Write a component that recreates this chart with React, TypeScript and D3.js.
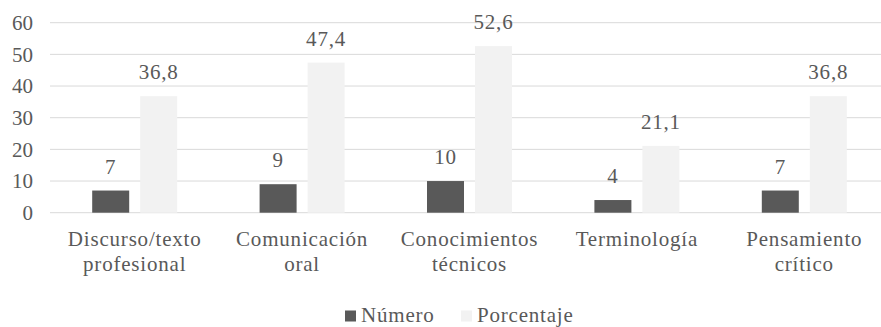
import React from "react";
import * as d3 from "d3";

const categories: string[][] = [
  ["Discurso/texto", "profesional"],
  ["Comunicación", "oral"],
  ["Conocimientos", "técnicos"],
  ["Terminología"],
  ["Pensamiento", "crítico"],
];
const numero: number[] = [7, 9, 10, 4, 7];
const porcentaje: number[] = [36.8, 47.4, 52.6, 21.1, 36.8];
const yTicks: number[] = [0, 10, 20, 30, 40, 50, 60];
const seriesNames: string[] = ["Número", "Porcentaje"];

const W = 881;
const H = 327;
const FONT =
  "'Liberation Serif', Tinos, 'Noto Serif', FreeSerif, 'Nimbus Roman', 'Nimbus Roman No9 L', Times, 'DejaVu Serif', serif";
const TEXT = "#595959";
const GRID = "#d9d9d9";
const COLORS = ["#595959", "#f2f2f2"];

const fmt = (v: number) => (Number.isInteger(v) ? String(v) : v.toFixed(1).replace(".", ","));

const textStyle: React.CSSProperties = { fontFamily: FONT, fontSize: 21, fill: TEXT };

export default function App() {
  const x = d3
    .scaleBand<number>()
    .domain(d3.range(categories.length))
    .range([51, 888])
    .paddingInner(0)
    .paddingOuter(0);
  const y = d3.scaleLinear().domain([0, 60]).range([212.7, 22.7]);
  const barW = 37;
  const offsets = [-24, 24];
  const series = [numero, porcentaje];

  return (
    <svg
      width={W}
      height={H}
      style={{ position: "absolute", left: 0, top: 0, background: "#fff", fontFamily: FONT }}
    >
      {yTicks.map((t) => (
        <g key={t}>
          <line x1={50} x2={W} y1={y(t)} y2={y(t)} stroke={GRID} strokeWidth={1} />
          <text x={33} y={y(t)} dy="0.35em" textAnchor="end" style={textStyle}>
            {t}
          </text>
        </g>
      ))}
      {categories.map((cat, i) => {
        const cx = (x(i) as number) + x.bandwidth() / 2;
        return (
          <g key={i}>
            {series.map((vals, s) => {
              const v = vals[i];
              const bx = cx + offsets[s] - barW / 2;
              return (
                <g key={s}>
                  <rect x={bx} y={y(v)} width={barW} height={y(0) - y(v)} fill={COLORS[s]} />
                  <text
                    x={bx + barW / 2}
                    y={y(v) - 17}
                    textAnchor="middle"
                    letterSpacing={0.8}
                    style={textStyle}
                  >
                    {fmt(v)}
                  </text>
                </g>
              );
            })}
            {cat.map((line, j) => (
              <text
                key={j}
                x={cx}
                y={246 + j * 25}
                textAnchor="middle"
                letterSpacing={0.8}
                style={textStyle}
              >
                {line}
              </text>
            ))}
          </g>
        );
      })}
      {seriesNames.map((name, s) => {
        const lx = [345, 461][s];
        return (
          <g key={name}>
            <rect x={lx} y={310.5} width={11} height={11} fill={COLORS[s]} />
            <text x={lx + 16} y={322} letterSpacing={0.8} style={textStyle}>
              {name}
            </text>
          </g>
        );
      })}
    </svg>
  );
}
